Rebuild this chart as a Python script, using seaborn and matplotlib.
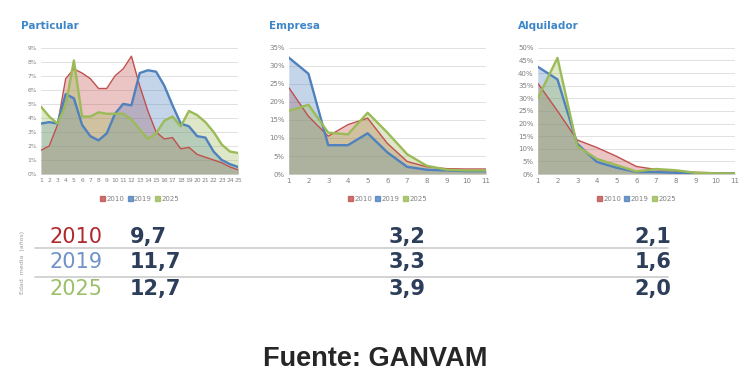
import matplotlib
matplotlib.use("Agg")
import matplotlib.pyplot as plt
import numpy as np
import pandas as pd
import seaborn as sns

sns.set_style("white")
plt.rcParams["font.family"] = ["DejaVu Sans"]

YEARS = ["2010", "2019", "2025"]
COLORS = {"2010": "#c0504d", "2019": "#4f81bd", "2025": "#9bbb59"}
LABEL_COLORS = {"2010": "#b0282c", "2019": "#6f93c6", "2025": "#9cbf6a"}
NARROW = ["Liberation Sans Narrow", "DejaVu Sans"]

# antiguedad (años) -> % del parque
part_x = list(range(1, 26))
part_2010 = [1.7, 2.0, 3.5, 6.8, 7.5, 7.2, 6.8, 6.1, 6.1, 7.0, 7.5, 8.4, 6.3, 4.5, 3.0,
             2.5, 2.6, 1.8, 1.9, 1.4, 1.2, 1.0, 0.8, 0.5, 0.3]
part_2019 = [3.6, 3.7, 3.6, 5.7, 5.4, 3.5, 2.7, 2.4, 2.9, 4.3, 5.0, 4.9, 7.2, 7.4, 7.3,
             6.3, 4.9, 3.6, 3.4, 2.7, 2.6, 1.6, 1.0, 0.7, 0.5]
part_2025 = [4.8, 4.1, 3.6, 4.9, 8.1, 4.1, 4.1, 4.4, 4.3, 4.3, 4.3, 3.9, 3.2, 2.5, 2.9,
             3.8, 4.1, 3.4, 4.5, 4.2, 3.7, 3.0, 2.1, 1.6, 1.5]

emp_x = list(range(1, 12))
emp_2010 = [24.0, 16.0, 10.5, 13.7, 15.5, 8.5, 3.5, 2.0, 1.5, 1.4, 1.4]
emp_2019 = [32.3, 27.8, 8.0, 8.0, 11.3, 6.0, 2.0, 1.2, 1.0, 0.8, 0.8]
emp_2025 = [17.5, 19.2, 11.5, 11.0, 17.0, 11.5, 5.5, 2.3, 1.2, 1.0, 1.0]

alq_x = list(range(1, 12))
alq_2010 = [36.0, 25.0, 13.5, 10.5, 7.0, 3.0, 1.8, 1.2, 0.7, 0.5, 0.5]
alq_2019 = [42.5, 37.5, 12.0, 4.8, 2.5, 0.8, 0.8, 0.5, 0.3, 0.2, 0.2]
alq_2025 = [30.0, 46.0, 11.0, 6.0, 3.5, 1.0, 2.0, 1.5, 0.5, 0.3, 0.2]

# edad media (años)
tab_part = ["9,7", "11,7", "12,7"]
tab_emp = ["3,2", "3,3", "3,9"]
tab_alq = ["2,1", "1,6", "2,0"]

panels = [
    ("Particular", part_x, [part_2010, part_2019, part_2025], 9, 1, 0.0547),
    ("Empresa", emp_x, [emp_2010, emp_2019, emp_2025], 35, 5, 0.385),
    ("Alquilador", alq_x, [alq_2010, alq_2019, alq_2025], 50, 5, 0.717),
]
LINE_W = {"2010": 1.0, "2019": 1.7, "2025": 1.7}

fig = plt.figure(figsize=(7.5, 3.92), dpi=100)

for title, xs, series, ymax, step, left in panels:
    ax = fig.add_axes([left, 0.556, 0.263, 0.322])
    df = pd.DataFrame({"x": xs * 3,
                       "y": np.concatenate(series),
                       "year": np.repeat(YEARS, len(xs))})
    for yr, vals in zip(YEARS, series):
        ax.fill_between(xs, vals, color=COLORS[yr], alpha=0.33, lw=0)
    sns.lineplot(data=df, x="x", y="y", hue="year", size="year", sizes=LINE_W,
                 palette=COLORS, ax=ax, legend=False)
    ax.set_xlim(xs[0], xs[-1])
    ax.set_ylim(0, ymax)
    ax.set_yticks(np.arange(0, ymax + 0.01, step))
    ax.set_yticklabels([f"{int(v)}%" for v in np.arange(0, ymax + 0.01, step)])
    ax.set_xticks(xs)
    ax.set_xticklabels([str(v) for v in xs])
    ax.set_xlabel("")
    ax.set_ylabel("")
    ax.grid(axis="y", color="#dcdcdc", lw=0.6)
    ax.set_axisbelow(True)
    for s in ax.spines.values():
        s.set_visible(False)
    ax.tick_params(axis="both", labelsize=4.3 if title == "Particular" else 5,
                   colors="#7f7f7f", length=0, pad=3)
    ax.text(-0.1, 1.13, title, transform=ax.transAxes, fontsize=7.5, fontweight="bold",
            color="#3f86c8", ha="left", va="bottom", family=NARROW)
    handles = [plt.Rectangle((0, 0), 1, 1, facecolor=COLORS[y], edgecolor=COLORS[y],
                             alpha=0.8) for y in YEARS]
    fig.legend(handles, YEARS, loc="center",
               bbox_to_anchor=(left + 0.1315, 0.492), ncol=3, frameon=False,
               fontsize=5, handlelength=0.7, handleheight=0.7, handletextpad=0.2,
               columnspacing=0.5, labelcolor="#7f7f7f")

# tabla de edades medias
row_y = [0.395, 0.331, 0.262]
for i, yr in enumerate(YEARS):
    fig.text(0.066, row_y[i], yr, color=LABEL_COLORS[yr], fontsize=15,
             ha="left", va="center", family=NARROW)
    for xpos, vals in [(0.173, tab_part), (0.518, tab_emp), (0.846, tab_alq)]:
        fig.text(xpos, row_y[i], vals[i], color="#2d3e5a", fontsize=15,
                 ha="left", va="center", family=NARROW, fontweight="bold")
for yl in [0.367, 0.294]:
    fig.add_artist(plt.Line2D([0.047, 0.89], [yl, yl], color="#cccccc", lw=1.2))
fig.text(0.03, 0.33, "Edad  media  (años)", rotation=90, fontsize=4.5,
         color="#9a9a9a", ha="center", va="center")

fig.text(0.5, 0.083, "Fuente: GANVAM", fontsize=19.5, fontweight="bold",
         ha="center", va="center", family=["Liberation Sans", "DejaVu Sans"])

fig.savefig("out.png", dpi=100)
